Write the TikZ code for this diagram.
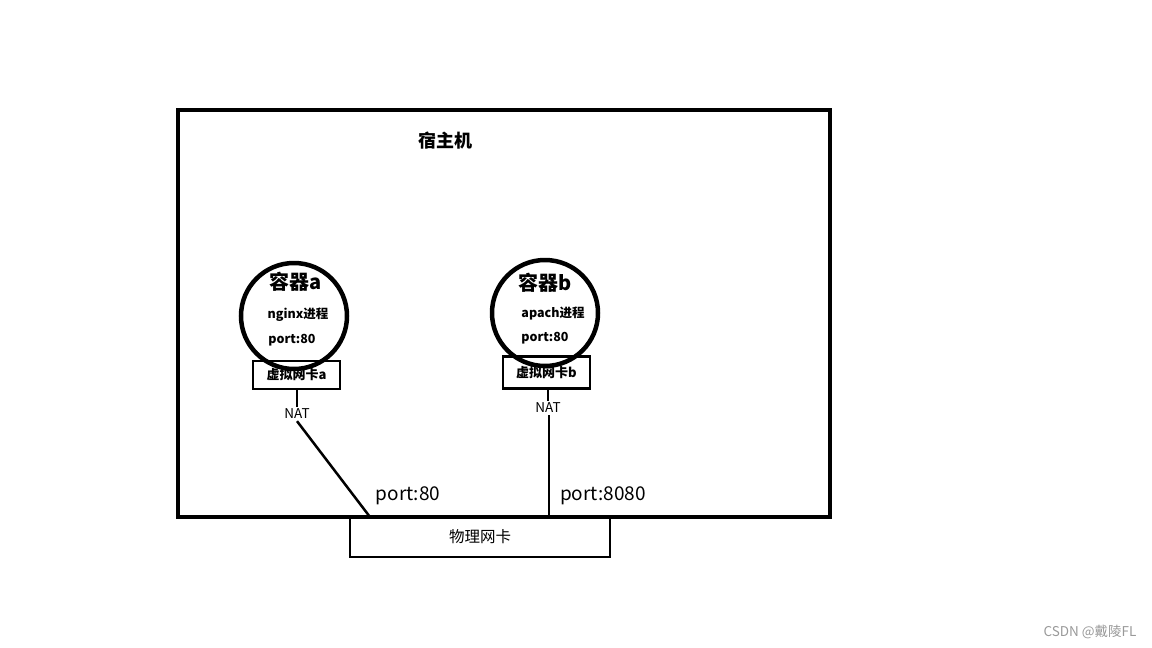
\documentclass[tikz,border=0pt]{standalone}
\usepackage{fontspec}
\setmainfont{Noto Sans CJK SC}
\begin{document}
\begin{tikzpicture}[
    x=1pt, y=-1pt,
    every node/.style={inner sep=1pt},
    frame/.style={draw=black, line width=3.5pt, inner sep=0pt},
    container/.style={circle, draw=black, line width=4.5pt, minimum size=106pt, inner sep=0pt},
    nicbox/.style={draw=black, line width=2.5pt, minimum width=87pt, minimum height=28pt, font=\fontsize{13}{15}\selectfont\bfseries},
    title/.style={font=\fontsize{20}{22}\selectfont\bfseries},
    info/.style={font=\fontsize{12.5}{14}\selectfont\bfseries},
    nat/.style={font=\fontsize{13.5}{15}\selectfont, inner sep=2pt},
    portlabel/.style={font=\fontsize{19}{21}\selectfont},
    link/.style={draw, line width=2.5pt}
]
\useasboundingbox (0,0) rectangle (1152,648);
% host machine
\node[frame, minimum width=652pt, minimum height=407pt] (host) at (504,313.5) {};
\node[font=\fontsize{18}{20}\selectfont\bfseries] (hostname) at (445,141) {宿主机};
% container a
\node[container] (conta) at (294,316) {};
\node[title] (contaname) at (296,282) {容器a};
\node[info] (proca) at (298,315) {nginx进程};
\node[info] (porta) at (292,340) {port:80};
\node[nicbox] (vnica) at (296.5,375) {虚拟网卡a};
\node[nat] (nata) at (297,414) {NAT};
% container b
\node[container] (contb) at (545,313) {};
\node[title] (contbname) at (545,283) {容器b};
\node[info] (procb) at (553,313) {apach进程};
\node[info] (portb) at (545,338) {port:80};
\node[nicbox, minimum height=32pt] (vnicb) at (546.5,372.5) {虚拟网卡b};
\node[nat] (natb) at (548,408) {NAT};
% physical nic
\node[draw=black, line width=2.5pt, minimum width=260pt, minimum height=40pt, font=\fontsize{15.5}{17}\selectfont] (nic) at (480,537) {物理网卡};
\coordinate (enda) at (370,517);
\coordinate (endb) at (549,517);
\node[portlabel] (hosta) at (408,496) {port:80};
\node[portlabel] (hostb) at (603,496) {port:8080};
% links
\draw[link] (vnica.south -| nata.north) -- (nata.north);
\draw[link] (nata.south) -- (enda);
\draw[link] (vnicb.south -| natb.north) -- (natb.north);
\draw[link] (natb.south -| endb) -- (endb);
% watermark
\node[text=gray!80, font=\fontsize{13.5}{15}\selectfont] (mark) at (1090,632) {CSDN @戴陵FL};
\end{tikzpicture}
\end{document}
